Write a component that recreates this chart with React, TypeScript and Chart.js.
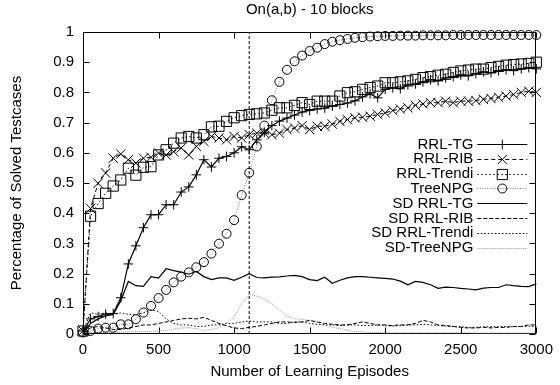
import React, { useEffect, useRef } from 'react';
import { Chart, registerables } from 'chart.js';

Chart.register(...registerables);

const episodes = [
  0, 50, 100, 150, 200, 250, 300, 350, 400, 450, 500, 550, 600, 650, 700, 750, 800, 850, 900, 950,
  1000, 1050, 1100, 1150, 1200, 1250, 1300, 1350, 1400, 1450, 1500, 1550, 1600, 1650, 1700, 1750,
  1800, 1850, 1900, 1950, 2000, 2050, 2100, 2150, 2200, 2250, 2300, 2350, 2400, 2450, 2500, 2550,
  2600, 2650, 2700, 2750, 2800, 2850, 2900, 2950, 3000,
];

const rrlTG = [
  0.01, 0.05, 0.058, 0.066, 0.068, 0.12, 0.232, 0.292, 0.352, 0.395, 0.395, 0.428, 0.428, 0.47, 0.487,
  0.527, 0.577, 0.553, 0.582, 0.588, 0.6, 0.62, 0.61, 0.643, 0.668, 0.69, 0.705, 0.715, 0.725, 0.735,
  0.74, 0.745, 0.748, 0.755, 0.76, 0.765, 0.772, 0.785, 0.795, 0.782, 0.81, 0.815, 0.812, 0.825, 0.828,
  0.835, 0.842, 0.838, 0.848, 0.852, 0.858, 0.855, 0.862, 0.868, 0.865, 0.872, 0.875, 0.872, 0.878,
  0.882, 0.878,
];

const rrlRIB = [
  0.01, 0.416, 0.499, 0.533, 0.582, 0.596, 0.577, 0.566, 0.582, 0.585, 0.599, 0.593, 0.604, 0.616, 0.593,
  0.621, 0.638, 0.654, 0.649, 0.643, 0.654, 0.649, 0.66, 0.665, 0.665, 0.66, 0.665, 0.677, 0.682, 0.69,
  0.677, 0.688, 0.688, 0.695, 0.704, 0.71, 0.716, 0.718, 0.721, 0.727, 0.732, 0.74, 0.745, 0.749, 0.757,
  0.762, 0.766, 0.766, 0.771, 0.766, 0.771, 0.771, 0.773, 0.777, 0.78, 0.784, 0.788, 0.793, 0.8, 0.804,
  0.8,
];

const rrlTrendi = [
  0.01, 0.39, 0.432, 0.466, 0.49, 0.51, 0.549, 0.526, 0.552, 0.554, 0.593, 0.61, 0.632, 0.649, 0.654,
  0.649, 0.66, 0.686, 0.688, 0.704, 0.716, 0.723, 0.727, 0.729, 0.732, 0.741, 0.749, 0.749, 0.757, 0.766,
  0.76, 0.771, 0.771, 0.771, 0.788, 0.799, 0.802, 0.81, 0.816, 0.821, 0.832, 0.832, 0.835, 0.838, 0.843,
  0.849, 0.852, 0.857, 0.86, 0.866, 0.871, 0.874, 0.877, 0.877, 0.882, 0.886, 0.89, 0.892, 0.894, 0.896,
  0.9,
];

const treeNPG = [
  0.005, 0.01, 0.018, 0.021, 0.021, 0.032, 0.032, 0.049, 0.071, 0.093, 0.119, 0.146, 0.171, 0.19, 0.204,
  0.221, 0.238, 0.266, 0.299, 0.332, 0.377, 0.46, 0.534, 0.621, 0.69, 0.774, 0.835, 0.875, 0.903, 0.922,
  0.937, 0.948, 0.96, 0.968, 0.973, 0.977, 0.981, 0.983, 0.985, 0.986, 0.987, 0.987, 0.988, 0.988, 0.988,
  0.989, 0.989, 0.989, 0.989, 0.99, 0.99, 0.99, 0.99, 0.99, 0.99, 0.99, 0.99, 0.99, 0.99, 0.99,
  0.99,
];

const sdTG = [
  0.005, 0.035, 0.05, 0.06, 0.065, 0.11, 0.174, 0.16, 0.158, 0.19, 0.185, 0.216, 0.21, 0.205, 0.198,
  0.207, 0.19, 0.18, 0.186, 0.186, 0.178, 0.188, 0.2, 0.187, 0.186, 0.188, 0.189, 0.192, 0.194, 0.19,
  0.18, 0.177, 0.188, 0.168, 0.178, 0.186, 0.19, 0.19, 0.188, 0.186, 0.184, 0.182, 0.175, 0.163, 0.174,
  0.171, 0.163, 0.151, 0.155, 0.154, 0.151, 0.149, 0.146, 0.152, 0.154, 0.154, 0.163, 0.16, 0.158, 0.157,
  0.166,
];

const sdRIB = [
  0.005, 0.02, 0.025, 0.02, 0.015, 0.015, 0.02, 0.025, 0.03, 0.03, 0.035, 0.04, 0.045, 0.05, 0.052,
  0.05, 0.055, 0.045, 0.035, 0.027, 0.02, 0.018, 0.022, 0.025, 0.03, 0.035, 0.04, 0.04, 0.038, 0.04,
  0.045, 0.04, 0.035, 0.032, 0.03, 0.03, 0.035, 0.04, 0.035, 0.03, 0.03, 0.028, 0.03, 0.03, 0.035,
  0.045, 0.04, 0.03, 0.028, 0.025, 0.022, 0.02, 0.02, 0.022, 0.02, 0.022, 0.022, 0.025, 0.025, 0.03,
  0.03,
];

const sdTrendi = [
  0.01, 0.07, 0.065, 0.07, 0.065, 0.07, 0.065, 0.065, 0.07, 0.08, 0.075, 0.05, 0.035, 0.03, 0.03,
  0.025, 0.025, 0.03, 0.03, 0.035, 0.035, 0.04, 0.043, 0.04, 0.04, 0.04, 0.035, 0.035, 0.04, 0.04,
  0.035, 0.032, 0.03, 0.03, 0.028, 0.03, 0.03, 0.028, 0.028, 0.03, 0.028, 0.026, 0.028, 0.03, 0.03,
  0.032, 0.03, 0.028, 0.026, 0.025, 0.024, 0.022, 0.022, 0.024, 0.024, 0.024, 0.025, 0.024, 0.025, 0.026,
  0.025,
];

const sdTreeNPG = [
  0.003, 0.004, 0.005, 0.005, 0.005, 0.006, 0.007, 0.008, 0.008, 0.009, 0.01, 0.012, 0.016, 0.02, 0.021,
  0.018, 0.012, 0.015, 0.021, 0.035, 0.055, 0.099, 0.132, 0.125, 0.115, 0.1, 0.08, 0.06, 0.05, 0.049,
  0.045, 0.038, 0.03, 0.022, 0.018, 0.012, 0.008, 0.007, 0.005, 0.005, 0.004, 0.004, 0.004, 0.004, 0.004,
  0.004, 0.004, 0.004, 0.004, 0.004, 0.004, 0.004, 0.003, 0.003, 0.003, 0.003, 0.003, 0.003, 0.003, 0.003,
  0.003,
];

const markerEpisode = 1100;
const xTickValues = [0, 500, 1000, 1500, 2000, 2500, 3000];
const yTickValues = [0, 0.1, 0.2, 0.3, 0.4, 0.5, 0.6, 0.7, 0.8, 0.9, 1];

const FONT = "'Liberation Sans', Arial, Helvetica, sans-serif";

const toPoints = (vals: number[]) => episodes.map((x, i) => ({ x, y: vals[i] }));

function drawMarker(ctx: CanvasRenderingContext2D, style: string, r: number, x: number, y: number) {
  ctx.beginPath();
  if (style === 'cross') {
    ctx.moveTo(x - r, y); ctx.lineTo(x + r, y);
    ctx.moveTo(x, y - r); ctx.lineTo(x, y + r);
  } else if (style === 'crossRot') {
    const o = r * Math.SQRT1_2;
    ctx.moveTo(x - o, y - o); ctx.lineTo(x + o, y + o);
    ctx.moveTo(x + o, y - o); ctx.lineTo(x - o, y + o);
  } else if (style === 'rect') {
    const s = r * Math.SQRT1_2;
    ctx.rect(x - s, y - s, 2 * s, 2 * s);
  } else if (style === 'circle') {
    ctx.arc(x, y, r, 0, Math.PI * 2);
  }
  ctx.stroke();
}

const framePlugin = {
  id: 'gnuFrame',
  beforeDatasetsDraw(chart: any) {
    const { ctx, chartArea, scales } = chart;
    const { left, right, top, bottom } = chartArea;
    const L = Math.round(left) + 0.5, R = Math.round(right) - 0.5;
    const T = Math.round(top) + 0.5, B = Math.round(bottom) - 0.5;
    ctx.save();
    ctx.strokeStyle = '#000';
    ctx.lineWidth = 1;
    ctx.setLineDash([]);
    ctx.strokeRect(L, T, R - L, B - T);
    const tl = 6;
    ctx.beginPath();
    xTickValues.forEach((v) => {
      const px = Math.round(scales.x.getPixelForValue(v)) + 0.5;
      ctx.moveTo(px, B); ctx.lineTo(px, B - tl);
      ctx.moveTo(px, T); ctx.lineTo(px, T + tl);
    });
    yTickValues.forEach((v) => {
      const py = Math.round(scales.y.getPixelForValue(v)) + 0.5;
      ctx.moveTo(L, py); ctx.lineTo(L + tl, py);
      ctx.moveTo(R, py); ctx.lineTo(R - tl, py);
    });
    ctx.stroke();
    ctx.restore();
  },
};

const legendPlugin = {
  id: 'gnuLegend',
  afterDatasetsDraw(chart: any) {
    const { ctx, chartArea } = chart;
    const items = chart.data.datasets.filter((d: any) => d.label);
    const textRight = chartArea.right - 63;
    const s0 = chartArea.right - 59;
    const s1 = chartArea.right - 9;
    ctx.save();
    ctx.font = `15px ${FONT}`;
    ctx.textAlign = 'right';
    ctx.textBaseline = 'middle';
    items.forEach((d: any, i: number) => {
      const cy = chartArea.top + 112 + i * 14.8;
      ctx.fillStyle = '#000';
      ctx.fillText(d.label, textRight, cy + 0.5);
      ctx.strokeStyle = d.borderColor;
      ctx.lineWidth = d.borderWidth;
      ctx.setLineDash(d.borderDash || []);
      ctx.beginPath();
      ctx.moveTo(s0, Math.round(cy) + 0.5);
      ctx.lineTo(s1, Math.round(cy) + 0.5);
      ctx.stroke();
      ctx.setLineDash([]);
      if (d.pointRadius > 0) {
        ctx.strokeStyle = d.pointBorderColor;
        ctx.lineWidth = 1;
        drawMarker(ctx, d.pointStyle, d.pointRadius, (s0 + s1) / 2, Math.round(cy) + 0.5);
      }
    });
    ctx.restore();
  },
};

export default function App() {
  const ref = useRef<HTMLCanvasElement | null>(null);

  useEffect(() => {
    document.body.style.margin = '0';
    if (!ref.current) return;
    Chart.defaults.font.family = FONT;
    Chart.defaults.color = '#000';

    const common = { tension: 0, clip: 12, pointBorderWidth: 1, pointBackgroundColor: 'rgba(0,0,0,0)', pointBorderColor: '#000' };

    const chart = new Chart(ref.current, {
      type: 'line',
      data: {
        datasets: [
          { ...common, label: 'RRL-TG', data: toPoints(rrlTG), borderColor: '#000', borderWidth: 1.2, borderDash: [], pointStyle: 'cross', pointRadius: 4.8 },
          { ...common, label: 'RRL-RIB', data: toPoints(rrlRIB), borderColor: '#000', borderWidth: 1, borderDash: [4, 3], pointStyle: 'crossRot', pointRadius: 6.6 },
          { ...common, label: 'RRL-Trendi', data: toPoints(rrlTrendi), borderColor: '#000', borderWidth: 1, borderDash: [1.5, 2.5], pointStyle: 'rect', pointRadius: 7.2 },
          { ...common, label: 'TreeNPG', data: toPoints(treeNPG), borderColor: '#777', borderWidth: 1, borderDash: [1, 1.5], pointStyle: 'circle', pointRadius: 4.5 },
          { ...common, label: 'SD RRL-TG', data: toPoints(sdTG), borderColor: '#000', borderWidth: 1.2, borderDash: [], pointRadius: 0 },
          { ...common, label: 'SD RRL-RIB', data: toPoints(sdRIB), borderColor: '#000', borderWidth: 1, borderDash: [4, 2], pointRadius: 0 },
          { ...common, label: 'SD RRL-Trendi', data: toPoints(sdTrendi), borderColor: '#000', borderWidth: 1, borderDash: [1.5, 2], pointRadius: 0 },
          { ...common, label: 'SD-TreeNPG', data: toPoints(sdTreeNPG), borderColor: '#999', borderWidth: 1, borderDash: [1, 1], pointRadius: 0 },
          { ...common, label: '', data: [{ x: markerEpisode, y: 0 }, { x: markerEpisode, y: 1 }], borderColor: '#000', borderWidth: 1, borderDash: [3, 2], pointRadius: 0 },
        ] as any,
      },
      options: {
        animation: false,
        responsive: false,
        events: [],
        layout: { padding: { left: 0, right: 18, top: 0, bottom: 0 } },
        plugins: {
          legend: { display: false },
          tooltip: { enabled: false },
          title: {
            display: true,
            fullSize: false,
            text: 'On(a,b) - 10 blocks',
            color: '#000',
            font: { size: 15, weight: 'normal', family: FONT },
            padding: { top: 1, bottom: 13 },
          },
        },
        scales: {
          x: {
            type: 'linear',
            min: 0,
            max: 3000,
            ticks: { stepSize: 500, padding: 7, maxRotation: 0, color: '#000', font: { size: 15, family: FONT }, callback: (v: any) => String(v) },
            grid: { display: false, drawTicks: false },
            border: { display: false },
            title: { display: true, text: 'Number of Learning Episodes', color: '#000', font: { size: 15, family: FONT }, padding: { top: 0, bottom: 4 } },
            afterFit: (s: any) => { s.height = 51; },
          },
          y: {
            type: 'linear',
            min: 0,
            max: 1,
            ticks: { stepSize: 0.1, padding: 9, color: '#000', font: { size: 15, family: FONT }, callback: (v: any) => String(parseFloat(Number(v).toFixed(1))) },
            grid: { display: false, drawTicks: false },
            border: { display: false },
            title: { display: true, text: 'Percentage of Solved Testcases', color: '#000', font: { size: 15, family: FONT }, padding: { top: 8, bottom: 0 } },
            afterFit: (s: any) => { s.width = 83; },
          },
        },
      } as any,
      plugins: [framePlugin, legendPlugin],
    });
    return () => chart.destroy();
  }, []);

  return (
    <div style={{ width: 560, height: 385 }}>
      <canvas ref={ref} width={560} height={385} style={{ display: 'block' }} />
    </div>
  );
}
